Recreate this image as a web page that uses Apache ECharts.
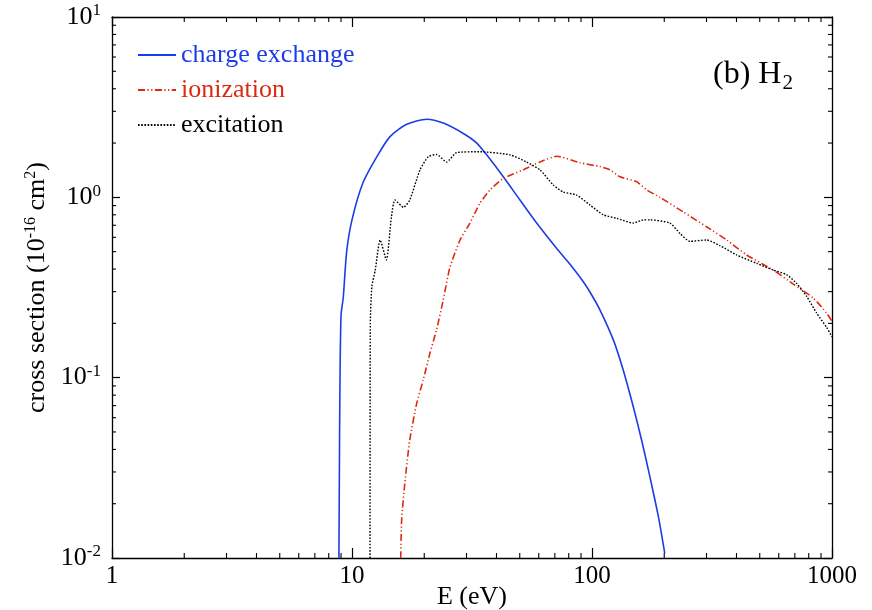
<!DOCTYPE html>
<html><head><meta charset="utf-8">
<script src="https://cdn.jsdelivr.net/npm/echarts@6/dist/echarts.min.js"></script>
<style>html,body{margin:0;padding:0;background:#fff}#c{width:872px;height:610px}</style>
</head><body><div id="c"></div>
<script>
// ---- data ----
const cxE = [8.82, 8.86, 8.9, 9.0, 9.2, 9.5, 10.0, 11.1, 12.7, 14.4, 16.9, 20.5, 24, 29.1, 33.1, 36.4, 42.7, 50.1, 58.8, 71.3, 81, 92, 99, 108, 122.7, 135, 148.6, 161, 174.5, 189, 201];
const cxV = [0.01, 0.03, 0.08, 0.22, 0.28, 0.5, 0.75, 1.20, 1.68, 2.17, 2.54, 2.71, 2.58, 2.26, 2.0, 1.72, 1.30, 0.966, 0.72, 0.52, 0.425, 0.34, 0.292, 0.237, 0.162, 0.110, 0.069, 0.045, 0.028, 0.017, 0.0106];

const ioE = [15.96, 16.1, 16.6, 17.4, 18.6, 19.8, 21.1, 22.5, 24, 25.6, 28.2, 31, 34.1, 37.6, 42.7, 51.7, 60.7, 71.3, 89.1, 108, 118.9, 130.8, 153.5, 169, 192, 240, 300, 364, 441, 569, 690, 836, 950, 1000];
const ioV = [0.01, 0.0162, 0.026, 0.045, 0.072, 0.097, 0.136, 0.184, 0.27, 0.41, 0.58, 0.72, 0.926, 1.10, 1.27, 1.42, 1.57, 1.69, 1.555, 1.48, 1.42, 1.30, 1.22, 1.10, 1.0, 0.83, 0.687, 0.58, 0.479, 0.395, 0.33, 0.276, 0.228, 0.205];

const exE = [11.89, 11.92, 12.1, 12.5, 13.1, 13.9, 14.6, 15.1, 16.4, 17.4, 19.2, 20.8, 22.5, 24.8, 27.3, 34.1, 45.5, 53.4, 60.7, 69, 75.9, 86.3, 98.1, 111.5, 126.7, 148.6, 163.6, 174.5, 211, 232.7, 256, 300, 341, 401, 486, 569, 648, 713, 785, 863, 950, 1000];
const exV = [0.01, 0.2, 0.32, 0.395, 0.58, 0.45, 0.78, 0.966, 0.88, 0.966, 1.42, 1.68, 1.73, 1.57, 1.77, 1.79, 1.72, 1.57, 1.42, 1.17, 1.07, 1.03, 0.906, 0.80, 0.765, 0.72, 0.75, 0.75, 0.72, 0.63, 0.57, 0.58, 0.54, 0.479, 0.43, 0.395, 0.372, 0.333, 0.282, 0.228, 0.19, 0.168];

const seriesNames = ['charge exchange', 'ionization', 'excitation'];
const xTickLabels = ['1', '10', '100', '1000'];
const yTickBase = '10';
const yTickExponents = ['-2', '-1', '0', '1'];

// ---- chart ----
const zip = (a, b) => a.map((v, i) => [v, b[i]]);
const FONT = '"Liberation Serif", "DejaVu Serif", serif';
const BLUE = '#1c3de6', RED = '#dc2a12', BLACK = '#000';

const chart = echarts.init(document.getElementById('c'), null, {renderer: 'canvas'});

const xLabelFmt = v => {
  const i = Math.round(Math.log10(v));
  return xTickLabels[i] !== undefined ? xTickLabels[i] : '';
};
const yLabelFmt = v => {
  const i = Math.round(Math.log10(v)) + 2;
  return yTickExponents[i] !== undefined ? '{b|' + yTickBase + '}{s|' + yTickExponents[i] + '}' : '';
};

const axisCommon = {
  type: 'log', logBase: 10,
  axisLine: {show: true, lineStyle: {color: '#000', width: 1.3}},
  splitLine: {show: false},
  minorTick: {show: false},
  nameMoveOverlap: false
};

chart.setOption({
  animation: false,
  backgroundColor: '#fff',
  grid: {left: 112, top: 17, width: 720, height: 541, containLabel: false, outerBoundsMode: 'none'},
  title: {
    text: '{a|(b) H}{s|2}',
    left: 708, top: 50,
    textStyle: {
      fontWeight: 'normal',
      rich: {
        a: {fontFamily: FONT, fontSize: 32, fontWeight: 'normal', color: '#000'},
        s: {fontFamily: FONT, fontSize: 21, fontWeight: 'normal', color: '#000', padding: [18, 0, 0, 1]}
      }
    }
  },
  legend: {
    orient: 'vertical', left: 137, top: 42, padding: 0,
    itemWidth: 38, itemHeight: 14, itemGap: 9,
    itemStyle: {opacity: 0},
    data: [
      {name: seriesNames[0], textStyle: {color: BLUE}},
      {name: seriesNames[1], textStyle: {color: RED}},
      {name: seriesNames[2], textStyle: {color: BLACK}}
    ],
    textStyle: {fontFamily: FONT, fontSize: 26}
  },
  xAxis: [
    Object.assign({}, axisCommon, {
      min: 1, max: 1000, position: 'bottom',
      axisTick: {show: true, inside: true, length: 10, lineStyle: {color: '#000', width: 1.2}},
      axisLabel: {formatter: xLabelFmt, fontFamily: FONT, fontSize: 25, color: '#000', margin: 6},
      name: 'E (eV)', nameLocation: 'middle', nameGap: 26,
      nameTextStyle: {fontFamily: FONT, fontSize: 26, color: '#000', verticalAlign: 'top'}
    }),
    Object.assign({}, axisCommon, {
      min: 1, max: 1000, position: 'top',
      axisTick: {show: true, inside: true, length: 10, lineStyle: {color: '#000', width: 1.2}},
      axisLabel: {show: false}
    })
  ],
  yAxis: [
    Object.assign({}, axisCommon, {
      min: 0.01, max: 10, position: 'left',
      axisTick: {show: true, inside: true, length: 8, lineStyle: {color: '#000', width: 1.2}},
      axisLabel: {
        formatter: yLabelFmt, margin: 11, color: '#000',
        rich: {
          b: {fontFamily: FONT, fontSize: 26, color: '#000'},
          s: {fontFamily: FONT, fontSize: 17, color: '#000', padding: [0, 0, 12, 0]}
        }
      },
      name: '{t|cross section (10}{s|-16}{t| cm}{s|2}{t|)}',
      nameLocation: 'middle', nameRotate: 90, nameGap: 60,
      nameTextStyle: {
        rich: {
          t: {fontFamily: FONT, fontSize: 26, color: '#000'},
          s: {fontFamily: FONT, fontSize: 16, color: '#000', padding: [0, 0, 13, 0]}
        }
      }
    }),
    Object.assign({}, axisCommon, {
      min: 0.01, max: 10, position: 'right',
      axisTick: {show: true, inside: true, length: 8, lineStyle: {color: '#000', width: 1.2}},
      axisLabel: {show: false}
    })
  ],
  series: [
    {
      name: seriesNames[0], type: 'line', data: zip(cxE, cxV),
      symbol: 'none', smooth: 0.25,
      itemStyle: {color: BLUE},
      lineStyle: {color: BLUE, width: 1.6, type: 'solid'}
    },
    {
      name: seriesNames[1], type: 'line', data: zip(ioE, ioV),
      symbol: 'none', smooth: 0.2,
      itemStyle: {color: RED},
      lineStyle: {color: RED, width: 1.6, type: [7, 2.5, 1.2, 2.5, 1.2, 2.5]}
    },
    {
      name: seriesNames[2], type: 'line', data: zip(exE, exV),
      symbol: 'none', smooth: 0.2,
      itemStyle: {color: BLACK},
      lineStyle: {color: BLACK, width: 1.4, type: [1.6, 1.6]}
    }
  ]
});

// minor ticks on all four sides, positioned through the axis scales
function addMinorTicks() {
  const els = [];
  const yb = chart.convertToPixel({yAxisIndex: 0}, 0.01);
  const yt = chart.convertToPixel({yAxisIndex: 0}, 10);
  const xl = chart.convertToPixel({xAxisIndex: 0}, 1);
  const xr = chart.convertToPixel({xAxisIndex: 0}, 1000);
  const st = {stroke: '#000', lineWidth: 1.1};
  for (let d = 0; d < 3; d++) {
    for (let k = 2; k <= 9; k++) {
      const x = chart.convertToPixel({xAxisIndex: 0}, k * Math.pow(10, d));
      els.push({type: 'line', shape: {x1: x, y1: yb, x2: x, y2: yb - 5}, style: st, silent: true});
      els.push({type: 'line', shape: {x1: x, y1: yt, x2: x, y2: yt + 5}, style: st, silent: true});
    }
  }
  for (let d = -2; d < 1; d++) {
    for (let k = 2; k <= 9; k++) {
      const y = chart.convertToPixel({yAxisIndex: 0}, k * Math.pow(10, d));
      els.push({type: 'line', shape: {x1: xl, y1: y, x2: xl + 4, y2: y}, style: st, silent: true});
      els.push({type: 'line', shape: {x1: xr, y1: y, x2: xr - 4, y2: y}, style: st, silent: true});
    }
  }
  chart.setOption({graphic: els});
}
addMinorTicks();
</script>
</body></html>
